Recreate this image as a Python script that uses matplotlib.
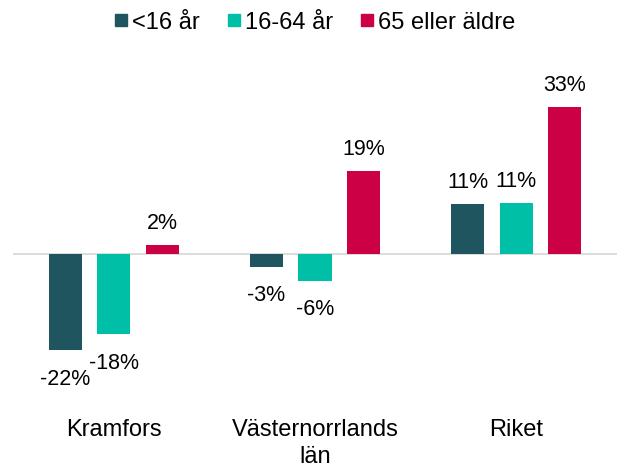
import numpy as np
import matplotlib
matplotlib.use('Agg')
import matplotlib.pyplot as plt
from matplotlib.lines import Line2D

# --- data ---
kategorier = ['Kramfors', 'Västernorrlands\nlän', 'Riket']
serier = ['<16 år', '16-64 år', '65 eller äldre']
under_16 = [-21.6, -2.9, 11.3]
mellan_16_64 = [-18.0, -6.0, 11.45]
over_65 = [1.96, 18.7, 33.0]
farger = ['#1F555F', '#00BFA7', '#CC0044']

plt.rcParams['font.family'] = ['Liberation Sans', 'DejaVu Sans']
fs_etikett = 15.5
fs = 17

fig = plt.figure(figsize=(6.24, 4.70), dpi=100)
ax = fig.add_axes([13 / 624, 0.1757, 604 / 624, 0.662])

x = np.arange(len(kategorier))
bredd = 0.164
steg = 0.241

for i, (namn, varden) in enumerate(zip(serier, [under_16, mellan_16_64, over_65])):
    pos = x + (i - 1) * steg
    ax.bar(pos, varden, width=bredd, color=farger[i], zorder=3, label=namn)
    for xp, v in zip(pos, varden):
        txt = f'{round(v):d}%'
        if v >= 0:
            ax.annotate(txt, xy=(xp, v), xytext=(0, 11.5), textcoords='offset points',
                        ha='center', va='baseline', fontsize=fs_etikett)
        else:
            ax.annotate(txt, xy=(xp, v), xytext=(0, -13.3), textcoords='offset points',
                        ha='center', va='top', fontsize=fs_etikett)

# nollinje
ax.axhline(0, color='#D9D9D9', linewidth=1.3, zorder=2)

ax.set_xlim(-0.5, len(kategorier) - 0.5)
ax.set_ylim(-30, 40)
ax.set_xticks(x)
ax.set_xticklabels(kategorier, fontsize=fs, linespacing=1.3)
ax.tick_params(axis='x', length=0, pad=23)
ax.set_yticks([])
for s in ax.spines.values():
    s.set_visible(False)

# legend med fyrkantiga markörer
handtag = [Line2D([0], [0], marker='s', linestyle='none', markersize=8.8,
                  markerfacecolor=c, markeredgecolor=c) for c in farger]
fig.legend(handtag, serier, loc='center', bbox_to_anchor=(0.505, 0.952), ncol=3,
           frameon=False, fontsize=fs, handlelength=0.5, handletextpad=0.2,
           columnspacing=1.2, borderaxespad=0)

fig.savefig('out.png', dpi=100)
